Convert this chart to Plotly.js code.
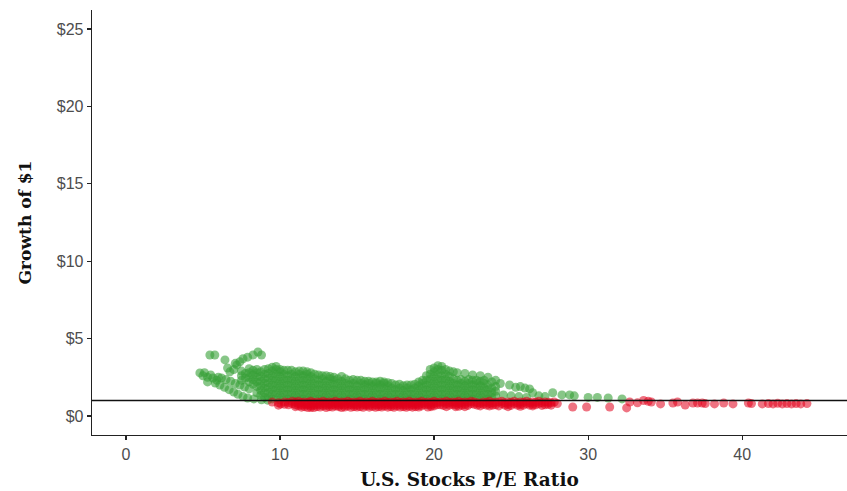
<!DOCTYPE html>
<html>
<head>
<meta charset="utf-8">
<script src="https://cdn.plot.ly/plotly-3.0.1.min.js"></script>
<style>html,body{margin:0;padding:0;background:#fff;}#chart{width:847px;height:491px;}</style>
</head>
<body>
<div id="chart"></div>
<script>
// ---- Data ----
// Green: periods where $1 grew above $1
var greenLoosePE = [4.8,5.1,5.3,5.3,5.65,5.0,5.5,5.9,
  5.45,5.77,6.43,6.6,6.75,7.2,7.4,7.6,7.9,8.25,8.57,8.8,7.0,7.1,
  5.8,6.1,6.4,6.7,7.0,7.27,7.6,7.9,8.3,8.8,9.2,
  6.0,6.2,6.5,6.8,7.1,7.4,7.7,8.0,
  24.3,24.9,25.3,25.6,25.9,26.2,26.4,24.5,25.0,25.5,26.0,26.8,27.2,27.7,28.3,28.8,29.1,30.0,30.6,31.3,32.2];
var greenLooseGrowth = [2.78,2.8,2.5,2.2,2.45,2.6,2.65,2.3,
  3.94,3.94,3.62,3.1,2.85,3.3,3.5,3.7,3.8,3.94,4.13,3.94,3.0,3.4,
  2.13,2.0,1.85,1.7,1.55,1.4,1.25,1.16,1.1,1.05,1.02,
  2.5,2.45,2.35,2.25,2.1,2.0,1.87,1.75,
  2.1,2.0,1.85,1.9,1.8,1.75,1.5,1.36,1.3,1.25,1.2,1.3,1.25,1.5,1.36,1.36,1.3,1.2,1.2,1.16,1.1];
var greenColPE = [7.5,8.0,8.5,9.0,9.5,10.0,10.5,11.0,11.5,12.0,12.5,13.0,13.5,14.0,14.5,15.0,15.5,16.0,16.5,17.0,17.5,18.0,18.5,19.0,19.5,20.0,20.5,21.0,21.5,22.0,22.5,23.0,23.5,24.0];
var greenColGrowth = [
  [2.3,2.6,2.9],
  [2.2,2.5,2.8,3.05],
  [1.5,1.9,2.2,2.5,2.8,3.0],
  [1.2,1.5,1.8,2.1,2.4,2.7,3.0],
  [1.1,1.4,1.7,2.0,2.3,2.6,2.9,3.15],
  [1.05,1.35,1.65,1.95,2.25,2.55,2.85,3.0],
  [1.1,1.4,1.7,2.0,2.3,2.6,2.95],
  [1.05,1.35,1.65,1.95,2.25,2.55,2.85],
  [1.1,1.4,1.7,2.0,2.3,2.6,2.9],
  [1.05,1.35,1.65,1.95,2.25,2.55,2.8],
  [1.1,1.4,1.7,2.0,2.3,2.65],
  [1.05,1.35,1.65,1.95,2.25,2.6],
  [1.1,1.4,1.7,2.0,2.3,2.5],
  [1.05,1.35,1.65,1.95,2.25,2.55],
  [1.1,1.4,1.7,2.0,2.3],
  [1.05,1.35,1.65,1.95,2.3],
  [1.1,1.4,1.7,2.0,2.25],
  [1.05,1.35,1.65,1.95,2.2],
  [1.1,1.4,1.7,2.0,2.25],
  [1.05,1.35,1.65,1.95,2.15],
  [1.1,1.4,1.7,2.0],
  [1.05,1.35,1.65,1.95],
  [1.1,1.4,1.7,2.0],
  [1.05,1.35,1.65,1.95,2.2],
  [1.1,1.4,1.7,2.0,2.3,2.6],
  [1.05,1.35,1.65,1.95,2.25,2.55,2.85,3.1],
  [1.1,1.4,1.7,2.0,2.3,2.6,2.95,3.2],
  [1.05,1.35,1.65,1.95,2.25,2.55,2.9],
  [1.1,1.4,1.7,2.0,2.3,2.8],
  [1.05,1.35,1.65,1.95,2.25,2.75],
  [1.1,1.4,1.7,2.0,2.3,2.65],
  [1.05,1.35,1.65,1.95,2.25,2.6],
  [1.1,1.4,1.7,2.0,2.5],
  [1.3,1.6,1.9,2.3]
];
var greenFillPE = [7.75,8.25,8.75,9.25,9.75,10.25,10.75,11.25,11.75,12.25,12.75,13.25,13.75,14.25,14.75,15.25,15.75,16.25,16.75,17.25,17.75,18.25,18.75,19.25,19.75,20.25,20.75,21.25,21.75,22.25,22.75,23.25,23.75];
var greenFillGrowth = [
  [2.45,2.75],
  [2.05,2.35,2.65,2.95],
  [1.35,1.65,1.95,2.25,2.55,2.85],
  [1.25,1.55,1.85,2.15,2.45,2.75,3.05],
  [1.2,1.5,1.8,2.1,2.4,2.7,3.0,3.2],
  [1.2,1.5,1.8,2.1,2.4,2.7,2.95],
  [1.2,1.5,1.8,2.1,2.4,2.7,2.95],
  [1.2,1.5,1.8,2.1,2.4,2.7,2.9],
  [1.2,1.5,1.8,2.1,2.4,2.7,2.85],
  [1.2,1.5,1.8,2.1,2.4,2.7],
  [1.2,1.5,1.8,2.1,2.4,2.6],
  [1.2,1.5,1.8,2.1,2.4,2.55],
  [1.2,1.5,1.8,2.1,2.4],
  [1.2,1.5,1.8,2.1,2.4],
  [1.2,1.5,1.8,2.1,2.35],
  [1.2,1.5,1.8,2.1,2.3],
  [1.2,1.5,1.8,2.1,2.25],
  [1.2,1.5,1.8,2.1,2.2],
  [1.2,1.5,1.8,2.1,2.2],
  [1.2,1.5,1.8,2.1],
  [1.2,1.5,1.8,2.05],
  [1.2,1.5,1.8,2.0],
  [1.2,1.5,1.8,2.05],
  [1.2,1.5,1.8,2.1,2.3],
  [1.2,1.5,1.8,2.1,2.4,2.7,3.0],
  [1.2,1.5,1.8,2.1,2.4,2.7,3.0,3.25],
  [1.2,1.5,1.8,2.1,2.4,2.7,3.0],
  [1.2,1.5,1.8,2.1,2.4,2.85],
  [1.2,1.5,1.8,2.1,2.35],
  [1.2,1.5,1.8,2.1,2.35],
  [1.2,1.5,1.8,2.1,2.3],
  [1.2,1.5,1.8,2.1,2.3],
  [1.2,1.5,1.8,2.2]
];
// Red: periods where $1 ended below $1
var redColPE = [9.5,9.9,10.3,10.8,11.2,11.6,12.0,12.4,12.8,13.2,13.6,14.0,14.4,14.8,15.2,15.6,16.0,16.4,16.8,17.2,17.6,18.0,18.4,18.8,19.2,19.6,20.0,20.4,20.8,21.2,21.6,22.0,22.4,22.8,23.2,23.6,24.0,24.4,24.8,25.2,25.6,26.0,26.4,26.8,27.2,27.6,28.0];
var redColGrowth = [
  [0.9],[0.85,0.7],[0.9,0.75],[0.95,0.8],[0.95,0.8,0.65],[0.9,0.75,0.6],[0.95,0.8,0.65,0.55],
  [0.9,0.75,0.6],[0.95,0.8,0.65],[0.9,0.75,0.6],[0.95,0.8,0.65],[0.9,0.75,0.55],[0.95,0.8,0.65],
  [0.9,0.75,0.6],[0.95,0.8,0.6],[0.9,0.75,0.65],[0.95,0.8,0.62],[0.9,0.75,0.6],[0.95,0.8,0.65],
  [0.9,0.75,0.6],[0.95,0.8,0.65],[0.9,0.75,0.6],[0.95,0.8,0.62],[0.9,0.75,0.6],[0.95,0.8,0.65],
  [0.9,0.75,0.58],[0.95,0.8,0.65],[0.9,0.72],[0.95,0.78,0.6],[0.9,0.75],[0.95,0.8,0.62],
  [0.9,0.75,0.6],[0.95,0.8],[0.85,0.7],[0.9,0.75],[0.95,0.8,0.65],[0.88,0.72],[0.95,0.8],
  [0.9,0.75,0.6],[0.95,0.8],[0.9,0.75,0.62],[0.95,0.8],[0.9,0.75,0.65],[0.95,0.8],[0.9,0.72],
  [0.85,0.7],[0.8]
];
var redFillPE = [10.05,10.55,11.0,11.4,11.8,12.2,12.6,13.0,13.4,13.8,14.2,14.6,15.0,15.4,15.8,16.2,16.6,17.0,17.4,17.8,18.2,18.6,19.0,19.4,19.8,20.2,20.6,21.0,21.4,21.8,22.2,22.6,23.0,23.4,23.8,24.2,24.6,25.0,25.4,25.8,26.2,26.6,27.0,27.4,27.8];
var redFillGrowth = [
  [0.78],[0.87,0.72],[0.88,0.72,0.6],[0.87,0.7,0.57],[0.88,0.72,0.55],[0.87,0.7,0.55],[0.88,0.72,0.58],
  [0.87,0.7,0.55],[0.88,0.72,0.58],[0.87,0.7,0.6],[0.88,0.7,0.58],[0.87,0.72,0.56],[0.88,0.7,0.58],
  [0.87,0.72,0.56],[0.88,0.7,0.57],[0.87,0.72,0.56],[0.88,0.7,0.58],[0.87,0.72,0.57],[0.88,0.7,0.56],
  [0.87,0.72,0.58],[0.88,0.7,0.56],[0.87,0.72,0.57],[0.88,0.7,0.58],[0.87,0.72],[0.88,0.7,0.6],
  [0.87,0.72],[0.88,0.68],[0.87,0.7],[0.88,0.72,0.6],[0.87,0.7],[0.88,0.68],[0.9,0.75],[0.82,0.65],
  [0.88,0.7],[0.85,0.7],[0.9,0.65],[0.85,0.7],[0.88,0.68],[0.85,0.7],[0.88,0.7],[0.85,0.7],
  [0.88,0.72],[0.85,0.68],[0.88,0.75],[0.9]
];
var redLoosePE = [29.0,29.9,31.4,32.5,32.7,33.2,33.6,33.9,34.1,34.7,35.5,35.8,36.3,36.8,37.1,37.4,37.6,38.2,38.8,39.4,40.4,40.6,41.3,41.7,42.0,42.3,42.6,42.9,43.2,43.5,43.8,44.2];
var redLooseGrowth = [0.58,0.58,0.58,0.52,0.9,0.85,1.0,0.95,0.9,0.78,0.84,0.9,0.71,0.84,0.84,0.84,0.8,0.78,0.84,0.78,0.84,0.8,0.78,0.8,0.78,0.82,0.78,0.8,0.78,0.8,0.78,0.8];

var xTickVals = [0,10,20,30,40];
var yTickVals = [0,5,10,15,20,25];
var yTickText = ['$0','$5','$10','$15','$20','$25'];
var breakEven = 1;

// ---- Build traces ----
function flatten(colPE, colGrowth){
  var xs = [], ys = [];
  for (var i = 0; i < colPE.length; i++){
    for (var j = 0; j < colGrowth[i].length; j++){ xs.push(colPE[i]); ys.push(colGrowth[i][j]); }
  }
  return {x: xs, y: ys};
}
var g1 = flatten(greenColPE, greenColGrowth);
var g2 = flatten(greenFillPE, greenFillGrowth);
var r1 = flatten(redColPE, redColGrowth);
var r2 = flatten(redFillPE, redFillGrowth);

var gx = greenLoosePE.concat(g1.x, g2.x), gy = greenLooseGrowth.concat(g1.y, g2.y);
var rx = r1.x.concat(r2.x, redLoosePE), ry = r1.y.concat(r2.y, redLooseGrowth);

var traces = [
  {type:'scatter', mode:'markers', x:gx, y:gy, hoverinfo:'skip',
   marker:{color:'rgb(55,160,55)', size:9, opacity:0.6, line:{width:0}}},
  {type:'scatter', mode:'markers', x:rx, y:ry, hoverinfo:'skip',
   marker:{color:'rgb(225,0,28)', size:9, opacity:0.55, line:{width:0}}}
];

var layout = {
  width:847, height:491,
  margin:{l:92, r:0, t:10, b:56, pad:0},
  paper_bgcolor:'#fff', plot_bgcolor:'#fff',
  showlegend:false,
  xaxis:{range:[-2.2,46.8], tickvals:xTickVals, showgrid:false, zeroline:false,
    showline:true, linecolor:'#222', linewidth:1.3, ticks:'outside', ticklen:4, tickwidth:1.2, tickcolor:'#222',
    tickfont:{family:'Liberation Sans, Arial, sans-serif', size:16, color:'#4d4d4d'},
    title:{text:'U.S. Stocks P/E Ratio', standoff:11, font:{family:'DejaVu Serif, serif', size:18.5, color:'#111', weight:'bold'}}},
  yaxis:{range:[-1.23,26.23], tickvals:yTickVals, ticktext:yTickText, showgrid:false, zeroline:false,
    showline:true, linecolor:'#222', linewidth:1.3, ticks:'outside', ticklen:4, tickwidth:1.2, tickcolor:'#222',
    tickfont:{family:'Liberation Sans, Arial, sans-serif', size:16, color:'#4d4d4d'},
    title:{text:'Growth of $1', standoff:20, font:{family:'DejaVu Serif, serif', size:17, color:'#111', weight:'bold'}}},
  shapes:[{type:'line', xref:'paper', x0:0, x1:1, yref:'y', y0:breakEven, y1:breakEven,
    line:{color:'#111', width:1.4}}]
};

Plotly.newPlot('chart', traces, layout, {displayModeBar:false, staticPlot:true});
</script>
</body>
</html>
